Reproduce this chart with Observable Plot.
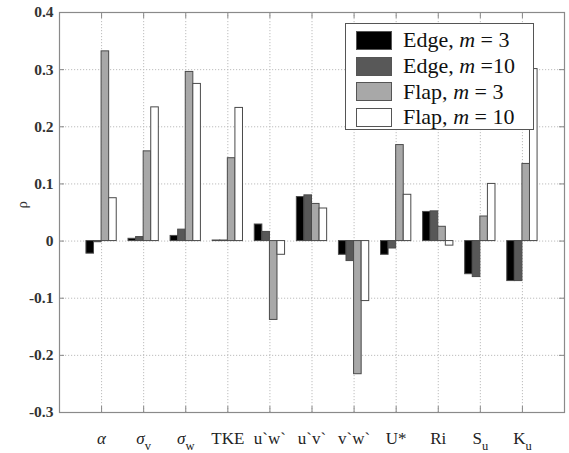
<!DOCTYPE html>
<html>
<head>
<meta charset="utf-8">
<script src="https://cdn.jsdelivr.net/npm/d3@7"></script>
<script src="https://cdn.jsdelivr.net/npm/@observablehq/plot@0.6"></script>
<style>
  html, body { margin: 0; padding: 0; background: #fff; }
  #wrap { position: relative; width: 569px; height: 453px; }
  #wrap svg text { font-family: "Liberation Serif", "Times New Roman", serif !important; }
  #legend { position: absolute; left: 345px; top: 23px; width: 189px; height: 107px;
    border: 1px solid #555; background: #fff; box-sizing: border-box;
    font-family: "Liberation Serif", "Times New Roman", serif; font-size: 22px; color: #111; }
  .row { position: absolute; left: 10px; height: 20px; display: flex; align-items: center; }
  .sw { width: 36px; height: 19px; border: 1px solid #555; box-sizing: border-box; margin-right: 11px; }
  .row span.t { white-space: pre; line-height: 20px; }
</style>
</head>
<body>
<div id="wrap"></div>
<script>
// ---- data ----
const categories = ["α", "σ", "σ", "TKE", "u`w`", "u`v`", "v`w`", "U*", "Ri", "S", "K"];
const categorySubs = ["", "v", "w", "", "", "", "", "", "", "u", "u"];
const seriesNames = ["Edge, m = 3", "Edge, m =10", "Flap, m = 3", "Flap, m = 10"];
const edgeM3  = [-0.022, 0.004, 0.009, 0.001, 0.029, 0.077, -0.024, -0.024, 0.051, -0.058, -0.070];
const edgeM10 = [-0.002, 0.007, 0.020, 0.001, 0.016, 0.080, -0.035, -0.013, 0.052, -0.063, -0.070];
const flapM3  = [0.332, 0.157, 0.296, 0.145, -0.138, 0.065, -0.233, 0.168, 0.025, 0.043, 0.135];
const flapM10 = [0.075, 0.234, 0.275, 0.233, -0.024, 0.057, -0.105, 0.081, -0.008, 0.100, 0.301];
const yTicks = [-0.3, -0.2, -0.1, 0, 0.1, 0.2, 0.3, 0.4];

const seriesValues = [edgeM3, edgeM10, flapM3, flapM10];
const colors = ["#000000", "#585858", "#a8a8a8", "#ffffff"];
const xTicks = categories.map((c, i) => i + 1);
const data = categories.flatMap((c, i) =>
  seriesValues.map((vals, k) => ({pos: i + 1, k, v: vals[i], s: seriesNames[k]})));

const barW = 0.18, half = 0.36;
const serif = "Liberation Serif";

const chart = Plot.plot({
  width: 569, height: 453,
  marginLeft: 59, marginRight: 5, marginTop: 12, marginBottom: 41,
  style: {fontFamily: serif, background: "#fff"},
  x: {domain: [0, 12], axis: null},
  y: {domain: [-0.3, 0.4], axis: null},
  color: {domain: seriesNames, range: colors},
  marks: [
    Plot.ruleY(yTicks, {stroke: "#bdbdbd", strokeDasharray: "1.2,1.8", strokeWidth: 1}),
    Plot.ruleX(xTicks, {stroke: "#bdbdbd", strokeDasharray: "1.2,1.8", strokeWidth: 1}),
    Plot.rect(data, {
      x1: d => d.pos - half + d.k * barW,
      x2: d => d.pos - half + (d.k + 1) * barW,
      y1: 0, y2: "v", fill: "s", stroke: "#4a4a4a", strokeWidth: 1
    }),
    // inward ticks
    Plot.ruleY(yTicks, {stroke: "#888", insetRight: 500}),
    Plot.ruleY(yTicks, {stroke: "#888", insetLeft: 500}),
    Plot.ruleX(xTicks, {stroke: "#888", insetTop: 394}),
    Plot.ruleX(xTicks, {stroke: "#888", insetBottom: 394}),
    Plot.frame({stroke: "#8a8a8a", strokeWidth: 1.2}),
    Plot.axisY({ticks: yTicks, tickSize: 0, tickPadding: 6, fontFamily: serif,
      tickFormat: d => d === 0 ? "0" : d.toFixed(1).replace("−", "-"),
      fontSize: 15.5, fontWeight: "bold", fill: "#333", label: null}),
    Plot.axisX({ticks: xTicks, tickSize: 0, tickPadding: 19, fontFamily: serif,
      tickFormat: d => categories[d - 1], fontSize: 17, fill: "#222", label: null}),
    Plot.text(["ρ"], {frameAnchor: "left", dx: -37, dy: -4, rotate: -90, fontSize: 15,
      fill: "#333", fontFamily: serif})
  ]
});

// subscripts / italics on the x tick labels (in tick order)
const ns = "http://www.w3.org/2000/svg";
const xLabels = chart.querySelectorAll('g[aria-label="x-axis tick label"] text');
Array.from(xLabels).forEach((t, i) => {
  const base = categories[i], sub = categorySubs[i];
  t.textContent = "";
  const b = document.createElementNS(ns, "tspan");
  b.textContent = base;
  if (base === "α" || base === "σ") b.setAttribute("font-style", "italic");
  t.appendChild(b);
  if (sub) {
    const s = document.createElementNS(ns, "tspan");
    s.textContent = sub;
    s.setAttribute("font-size", "12.5");
    s.setAttribute("dy", "6");
    t.appendChild(s);
  }
});

const wrap = document.getElementById("wrap");
wrap.appendChild(chart);

// legend overlay
const legend = document.createElement("div");
legend.id = "legend";
const rowTops = [6, 32, 57.5, 83];
seriesNames.forEach((name, k) => {
  const row = document.createElement("div");
  row.className = "row";
  row.style.top = rowTops[k] + "px";
  const sw = document.createElement("div");
  sw.className = "sw";
  sw.style.background = colors[k];
  const txt = document.createElement("span");
  txt.className = "t";
  const parts = name.split("m");
  txt.innerHTML = parts[0] + "<i>m</i>" + parts[1];
  row.appendChild(sw);
  row.appendChild(txt);
  legend.appendChild(row);
});
wrap.appendChild(legend);
</script>
</body>
</html>
